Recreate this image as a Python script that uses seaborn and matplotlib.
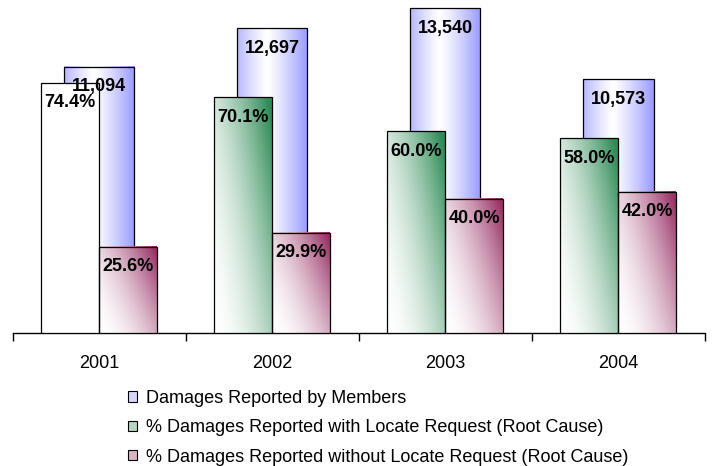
import matplotlib
matplotlib.use('Agg')
import matplotlib.pyplot as plt
import seaborn as sns
import numpy as np
import pandas as pd
from matplotlib.patches import Patch
from matplotlib.colors import to_rgb

# data
years = ['2001', '2002', '2003', '2004']
damages = [11094, 12697, 13540, 10573]
pct_with = [74.4, 70.1, 60.0, 58.0]
pct_without = [25.6, 29.9, 40.0, 42.0]

series_names = ['Damages Reported by Members',
                '% Damages Reported with Locate Request (Root Cause)',
                '% Damages Reported without Locate Request (Root Cause)']

blue, green, red = '#9999ff', '#2e8b57', '#993366'

sns.set_theme(style='white')
plt.rcParams['font.family'] = ['Liberation Sans', 'DejaVu Sans']
plt.rcParams['text.color'] = 'black'


def cylinder_grad(color, n=120):
    # horizontal: coloured edges, white a bit left of centre
    t = np.linspace(0, 1, n)
    w = np.where(t < 0.42, (0.42 - t) / 0.42 * 0.75, (t - 0.42) / 0.58) ** 1.2
    c = np.array(to_rgb(color))
    img = 1 - w[:, None] * (1 - c)[None, :]
    return img[None, :, :]


def diag_grad(color, n=120):
    # white bottom-left -> colour top-right
    X, Y = np.meshgrid(np.linspace(0, 1, n), np.linspace(0, 1, n))
    s = np.clip(0.62 * X + 0.42 * Y, 0, 1) ** 1.8
    c = np.array(to_rgb(color))
    return 1 - s[:, :, None] * (1 - c)[None, None, :]


def fill_gradient(axis, bar, img):
    x0, y0 = bar.get_x(), bar.get_y()
    x1, y1 = x0 + bar.get_width(), y0 + bar.get_height()
    axis.imshow(img, extent=[x0, x1, y0, y1], origin='lower', aspect='auto',
                interpolation='bilinear', zorder=bar.get_zorder() - 0.01)
    bar.set_facecolor('none')
    bar.set_edgecolor('black')
    bar.set_linewidth(0.9)


fig = plt.figure(figsize=(7.12, 4.66), dpi=100)
ax = fig.add_axes([12.7 / 712, 133 / 466, 692.3 / 712, 333 / 466])
axp = ax.twinx()

# counts (back) on base axis
sns.barplot(x=years, y=damages, width=0.405, color=blue, errorbar=None, ax=ax)

# percentages (front) on twin axis
pct_df = pd.DataFrame({
    'year': years * 2,
    'pct': pct_with + pct_without,
    'series': [series_names[1]] * 4 + [series_names[2]] * 4,
})
sns.barplot(data=pct_df, x='year', y='pct', hue='series', width=0.67, gap=0,
            dodge=True, palette=[green, red], errorbar=None, legend=False, ax=axp)

for bar in ax.containers[0]:
    fill_gradient(ax, bar, cylinder_grad(blue))
for i, bar in enumerate(axp.containers[0]):
    if i == 0:
        bar.set_facecolor('white')
        bar.set_edgecolor('black')
        bar.set_linewidth(0.9)
    else:
        fill_gradient(axp, bar, diag_grad(green))
for bar in axp.containers[1]:
    fill_gradient(axp, bar, diag_grad(red))

ax.set_xlim(-0.5, 3.5)
ax.set_ylim(0, 13875)
axp.set_ylim(0, 99.1)

# value labels, all drawn on top
for i, bar in enumerate(ax.containers[0]):
    axp.annotate(f'{damages[i]:,}', xy=(bar.get_x() + bar.get_width() / 2, bar.get_height()),
                 xycoords=ax.transData, xytext=(0, -20), textcoords='offset pixels',
                 ha='center', va='center', fontsize=13, fontweight='bold', color='black', zorder=10)
for cont, vals in zip(axp.containers, [pct_with, pct_without]):
    for bar, v in zip(cont, vals):
        axp.annotate(f'{v:.1f}%', xy=(bar.get_x() + bar.get_width() / 2, bar.get_height()),
                     xytext=(0, -20), textcoords='offset pixels',
                     ha='center', va='center', fontsize=13, fontweight='bold', color='black', zorder=10)

# axes styling
for s in ['top', 'left', 'right']:
    ax.spines[s].set_visible(False)
for s in axp.spines.values():
    s.set_visible(False)
ax.spines['bottom'].set_color('black')
ax.spines['bottom'].set_linewidth(1)
ax.set_yticks([])
axp.set_yticks([])
ax.set_ylabel('')
axp.set_ylabel('')
axp.set_xlabel('')
ax.set_xticks(np.arange(-0.5, 4, 1), minor=True)
ax.tick_params(axis='x', which='minor', bottom=True, length=6, width=1, color='black', direction='out')
ax.tick_params(axis='x', which='major', bottom=False, length=0, pad=16, labelsize=13, labelcolor='black')

handles = [Patch(facecolor='#d4d4ff', edgecolor='black', lw=0.8),
           Patch(facecolor='#b5d5c0', edgecolor='black', lw=0.8),
           Patch(facecolor='#d8b4c4', edgecolor='black', lw=0.8)]
fig.legend(handles, series_names, loc='upper left', bbox_to_anchor=(128 / 712, 1 - 390 / 466),
           frameon=False, fontsize=13, handlelength=0.5, handleheight=0.5,
           handletextpad=0.5, labelspacing=0.68, borderpad=0, borderaxespad=0,
           labelcolor='black')

fig.savefig('out.png', dpi=100)
